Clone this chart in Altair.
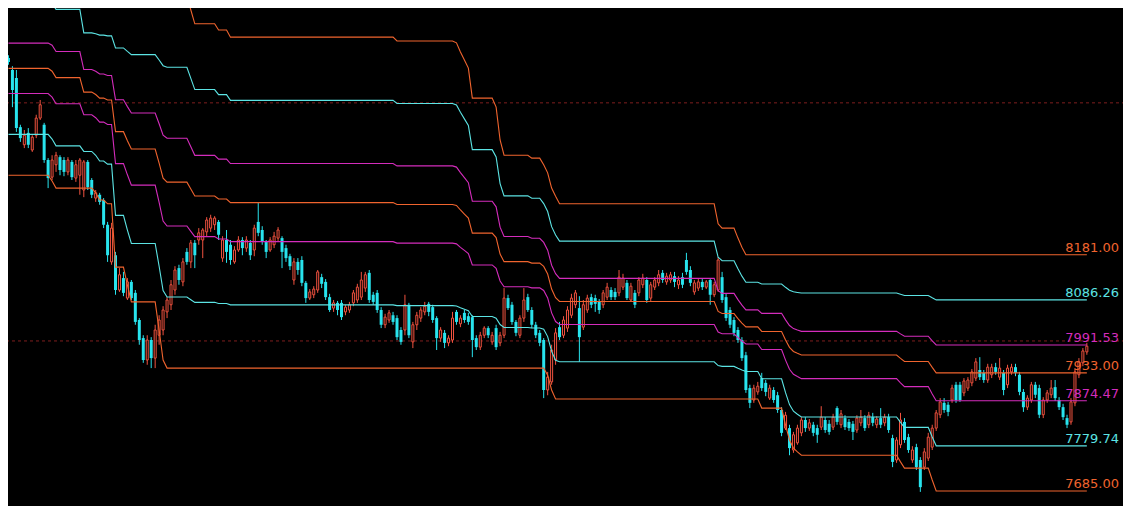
import altair as alt
import pandas as pd

# ---------------- colours ----------------
ORANGE = "#F0642E"
CYAN_LINE = "#5CE4E4"
MAGENTA = "#D42CBC"
RED_C = "#F0523F"
CYAN_C = "#28E4EE"
GRID_RED = "#7E1E1E"

# ---------------- candle data (price) ----------------
open_ = [
    8594, 8569, 8552, 8449, 8412, 8437, 8401, 8432, 8468, 8454,
    8380, 8344, 8370, 8386, 8380, 8355, 8376, 8342, 8348, 8317,
    8376, 8338, 8300, 8307, 8296, 8244, 8166, 8180, 8107, 8132,
    8090, 8124, 8101, 8044, 8006, 7960, 8002, 7964, 8012, 8023,
    8061, 8076, 8107, 8153, 8124, 8187, 8166, 8206, 8212, 8212,
    8229, 8237, 8244, 8250, 8174, 8212, 8202, 8166, 8191, 8212,
    8195, 8206, 8191, 8250, 8233, 8208, 8191, 8202, 8216, 8216,
    8195, 8178, 8128, 8166, 8170, 8122, 8090, 8097, 8107, 8134,
    8124, 8092, 8069, 8080, 8080, 8061, 8065, 8080, 8086, 8092,
    8111, 8143, 8097, 8101, 8065, 8034, 8044, 8054, 8048, 8023,
    8023, 8076, 7998, 8034, 8048, 8061, 8078, 8071, 8048, 8006,
    8017, 7996, 8002, 8061, 8036, 8059, 8052, 8050, 8006, 7987,
    8012, 8027, 7998, 8027, 7996, 8012, 8090, 8076, 8040, 8012,
    8048, 8092, 8065, 8034, 8017, 8002, 7897, 7914, 7960, 8029,
    8012, 8027, 8054, 8076, 8069, 8029, 8065, 8092, 8090, 8082,
    8076, 8092, 8107, 8103, 8101, 8113, 8122, 8086, 8101, 8101,
    8118, 8128, 8090, 8113, 8122, 8143, 8124, 8128, 8136, 8118,
    8134, 8170, 8149, 8103, 8111, 8124, 8113, 8128, 8097, 8107,
    8134, 8092, 8065, 8044, 8023, 8002, 7970, 7901, 7876, 7893,
    7922, 7912, 7880, 7897, 7886, 7855, 7817, 7817, 7771, 7786,
    7807, 7834, 7817, 7824, 7817, 7819, 7834, 7826, 7819, 7859,
    7824, 7838, 7830, 7826, 7813, 7828, 7838, 7824, 7840, 7824,
    7838, 7828, 7840, 7796, 7750, 7782, 7830, 7798, 7750, 7777,
    7750, 7735, 7754, 7777, 7817, 7845, 7870, 7866, 7876, 7908,
    7908, 7891, 7901, 7912, 7922, 7939, 7933, 7918, 7929, 7945,
    7924, 7933, 7908, 7935, 7945, 7929, 7893, 7861, 7876, 7908,
    7901, 7845, 7876, 7887, 7903, 7876, 7861, 7838, 7830, 7870,
    7929, 7954, 7977,
]
high = [
    8600, 8577, 8569, 8454, 8443, 8447, 8432, 8475, 8506, 8458,
    8384, 8390, 8397, 8390, 8386, 8386, 8380, 8380, 8384, 8380,
    8380, 8342, 8317, 8311, 8300, 8250, 8248, 8187, 8153, 8145,
    8132, 8128, 8107, 8048, 8012, 8012, 8008, 8034, 8054, 8073,
    8092, 8128, 8157, 8160, 8174, 8195, 8212, 8212, 8237, 8237,
    8260, 8265, 8262, 8254, 8220, 8233, 8212, 8199, 8220, 8218,
    8220, 8212, 8244, 8290, 8241, 8212, 8218, 8229, 8239, 8220,
    8202, 8183, 8174, 8174, 8178, 8126, 8109, 8115, 8149, 8141,
    8130, 8099, 8086, 8084, 8086, 8076, 8082, 8107, 8120, 8145,
    8145, 8149, 8103, 8107, 8071, 8057, 8065, 8061, 8054, 8029,
    8097, 8080, 8040, 8061, 8071, 8082, 8082, 8076, 8052, 8029,
    8023, 8012, 8061, 8065, 8054, 8065, 8059, 8054, 8012, 8019,
    8031, 8031, 8019, 8034, 8019, 8111, 8097, 8082, 8044, 8054,
    8111, 8099, 8071, 8040, 8023, 8006, 7935, 7992, 8027, 8040,
    8052, 8073, 8099, 8107, 8094, 8086, 8097, 8099, 8097, 8088,
    8107, 8122, 8113, 8111, 8149, 8141, 8128, 8122, 8107, 8134,
    8141, 8134, 8124, 8134, 8149, 8149, 8143, 8145, 8145, 8136,
    8143, 8185, 8157, 8128, 8130, 8130, 8128, 8132, 8124, 8176,
    8145, 8099, 8071, 8050, 8029, 8008, 7977, 7908, 7908, 7914,
    7933, 7918, 7908, 7903, 7893, 7861, 7851, 7824, 7809, 7824,
    7840, 7840, 7836, 7830, 7824, 7863, 7840, 7834, 7847, 7863,
    7855, 7844, 7836, 7832, 7844, 7855, 7844, 7851, 7849, 7842,
    7859, 7847, 7847, 7803, 7798, 7849, 7838, 7805, 7779, 7784,
    7756, 7775, 7807, 7824, 7855, 7880, 7880, 7872, 7908, 7914,
    7914, 7922, 7924, 7941, 7964, 7966, 7939, 7952, 7952, 7954,
    7964, 7939, 7950, 7952, 7952, 7935, 7899, 7886, 7914, 7914,
    7908, 7882, 7897, 7918, 7918, 7882, 7868, 7845, 7880, 7943,
    7964, 7985, 7996,
]
low = [
    8580, 8491, 8439, 8418, 8405, 8405, 8397, 8426, 8464, 8374,
    8321, 8338, 8355, 8348, 8346, 8348, 8338, 8334, 8307, 8302,
    8317, 8300, 8292, 8286, 8237, 8166, 8160, 8097, 8103, 8094,
    8086, 8086, 8034, 7992, 7954, 7950, 7943, 7943, 7992, 8012,
    8048, 8065, 8097, 8118, 8115, 8160, 8153, 8153, 8202, 8174,
    8220, 8229, 8233, 8212, 8166, 8164, 8160, 8162, 8187, 8180,
    8187, 8170, 8178, 8220, 8202, 8174, 8187, 8195, 8210, 8153,
    8166, 8149, 8118, 8139, 8115, 8080, 8086, 8090, 8101, 8111,
    8086, 8061, 8061, 8054, 8044, 8054, 8059, 8073, 8080, 8086,
    8103, 8080, 8076, 8059, 8027, 8027, 8038, 8034, 8002, 7992,
    8012, 8006, 7985, 8023, 8040, 8054, 8052, 8038, 7981, 7998,
    7985, 7989, 7996, 8034, 8029, 8038, 8034, 7966, 7981, 7981,
    8006, 8006, 7992, 7981, 7989, 8006, 8065, 8034, 8010, 8006,
    8040, 8061, 8027, 8006, 7989, 7880, 7886, 7908, 7950, 8002,
    8006, 8019, 8048, 8069, 7956, 8023, 8059, 8069, 8061, 8057,
    8069, 8086, 8086, 8086, 8094, 8107, 8086, 8082, 8069, 8094,
    8111, 8080, 8084, 8107, 8115, 8122, 8118, 8122, 8113, 8109,
    8111, 8139, 8115, 8097, 8105, 8107, 8109, 8076, 8092, 8103,
    8080, 8042, 8027, 8010, 7996, 7958, 7891, 7859, 7870, 7887,
    7895, 7884, 7876, 7870, 7849, 7800, 7813, 7760, 7765, 7782,
    7800, 7809, 7811, 7800, 7786, 7813, 7807, 7803, 7813, 7824,
    7817, 7813, 7811, 7792, 7807, 7821, 7811, 7817, 7821, 7817,
    7817, 7821, 7807, 7735, 7744, 7775, 7786, 7765, 7744, 7729,
    7683, 7729, 7748, 7771, 7811, 7838, 7849, 7842, 7870, 7870,
    7872, 7884, 7895, 7905, 7916, 7918, 7912, 7912, 7922, 7929,
    7918, 7886, 7901, 7929, 7926, 7886, 7851, 7855, 7870, 7880,
    7838, 7838, 7870, 7880, 7874, 7855, 7834, 7817, 7824, 7863,
    7922, 7947, 7971,
]
close = [
    8586, 8527, 8447, 8426, 8432, 8412, 8428, 8468, 8496, 8380,
    8342, 8380, 8390, 8359, 8355, 8380, 8344, 8370, 8380, 8376,
    8323, 8307, 8311, 8292, 8244, 8180, 8237, 8107, 8139, 8101,
    8124, 8090, 8040, 8002, 7960, 8002, 7964, 8023, 8044, 8065,
    8086, 8118, 8149, 8128, 8166, 8166, 8206, 8180, 8227, 8233,
    8254, 8258, 8258, 8223, 8212, 8187, 8170, 8191, 8212, 8195,
    8212, 8180, 8237, 8227, 8208, 8187, 8212, 8220, 8233, 8187,
    8174, 8157, 8166, 8149, 8122, 8090, 8103, 8109, 8145, 8120,
    8092, 8065, 8080, 8065, 8050, 8071, 8076, 8101, 8113, 8128,
    8139, 8086, 8082, 8065, 8034, 8050, 8059, 8040, 8008, 7998,
    8076, 8012, 8034, 8054, 8065, 8073, 8061, 8044, 8006, 8023,
    7996, 8006, 8048, 8040, 8048, 8044, 8040, 8002, 7987, 8012,
    8027, 8012, 8012, 7987, 8012, 8090, 8069, 8040, 8017, 8048,
    8086, 8065, 8034, 8012, 7996, 7897, 7924, 7981, 8017, 8008,
    8044, 8065, 8090, 8101, 8008, 8076, 8090, 8076, 8078, 8065,
    8101, 8113, 8092, 8092, 8134, 8132, 8090, 8115, 8076, 8128,
    8132, 8086, 8118, 8128, 8139, 8128, 8136, 8139, 8124, 8128,
    8118, 8145, 8122, 8122, 8124, 8113, 8124, 8097, 8118, 8170,
    8086, 8048, 8034, 8017, 8002, 7964, 7897, 7870, 7901, 7905,
    7901, 7893, 7901, 7876, 7855, 7807, 7844, 7775, 7803, 7817,
    7834, 7817, 7828, 7807, 7803, 7840, 7813, 7809, 7840, 7830,
    7847, 7819, 7817, 7809, 7838, 7840, 7817, 7844, 7828, 7836,
    7824, 7840, 7813, 7746, 7792, 7834, 7792, 7771, 7771, 7735,
    7693, 7767, 7798, 7817, 7849, 7872, 7855, 7851, 7901, 7876,
    7876, 7916, 7918, 7935, 7956, 7924, 7918, 7945, 7945, 7935,
    7943, 7897, 7943, 7945, 7933, 7893, 7861, 7880, 7908, 7887,
    7845, 7876, 7891, 7901, 7880, 7861, 7840, 7824, 7872, 7935,
    7956, 7979, 7989,
]

# rolling channel: highest high / lowest low, as runs (bar where a level starts, value)
hi_start = [0, 12, 19, 46, 47, 53, 56, 98, 113, 114, 115, 116, 117, 123, 124,
            125, 132, 135, 136, 137, 138, 139, 179, 180, 184, 185, 186]
hi_val = [8797, 8785, 8724, 8695, 8666, 8653, 8638, 8630, 8626, 8607, 8590, 8573, 8510, 8491, 8422,
          8390, 8384, 8370, 8353, 8321, 8304, 8288, 8246, 8237, 8216, 8197, 8181]
lo_start = [0, 11, 12, 22, 23, 25, 27, 30, 31, 38, 39, 40, 136, 137, 138,
            190, 196, 197, 198, 199, 200, 225, 226, 233, 234]
lo_val = [8348, 8336, 8321, 8311, 8296, 8288, 8155, 8117, 8082, 8023, 7960, 7943, 7928, 7897, 7878,
          7859, 7823, 7792, 7775, 7767, 7760, 7746, 7733, 7708, 7685]

level_ratio = [0.0, 0.191, 0.382, 0.5, 0.618, 0.809, 1.0]
level_name = ["L0", "L191", "L382", "L500", "L618", "L809", "L1000"]
level_color = [ORANGE, CYAN_LINE, MAGENTA, ORANGE, MAGENTA, CYAN_LINE, ORANGE]

round_levels = [8500, 8000]

# ---------------- build tables ----------------
n = min(len(open_), len(high), len(low), len(close))
cdf = pd.DataFrame({
    "i": list(range(n)),
    "open": open_[:n], "high": high[:n], "low": low[:n], "close": close[:n],
})
up = cdf[cdf["close"] >= cdf["open"]]
down = cdf[cdf["close"] < cdf["open"]]


def expand(starts, vals, count):
    out, k = [], 0
    for i in range(count):
        while k + 1 < len(starts) and starts[k + 1] <= i:
            k += 1
        out.append(vals[k])
    return out


hi = expand(hi_start, hi_val, n)
lo = expand(lo_start, lo_val, n)

rows = []
for name, r in zip(level_name, level_ratio):
    for i in range(n):
        rows.append({"i": i, "level": name, "v": hi[i] - r * (hi[i] - lo[i])})
ldf = pd.DataFrame(rows)

lab = []
for name, r in zip(level_name, level_ratio):
    v = hi[n - 1] - r * (hi[n - 1] - lo[n - 1])
    lab.append({"level": name, "v": v, "txt": f"{v:.2f}"})
labdf = pd.DataFrame(lab)

# ---------------- scales ----------------
xs = alt.Scale(domain=[-0.875, 281.875], nice=False, zero=False)
ys = alt.Scale(domain=[7653.4, 8716.0], nice=False, zero=False)
cs = alt.Scale(domain=level_name, range=level_color)

X = alt.X("i:Q", scale=xs, axis=None)

dashed = alt.Chart(pd.DataFrame({"v": round_levels})).mark_rule(
    color=GRID_RED, strokeWidth=1, strokeDash=[3, 3]
).encode(y=alt.Y("v:Q", scale=ys, axis=None))

wick_up = alt.Chart(up).mark_rule(color=RED_C, strokeWidth=1).encode(
    x=X, y=alt.Y("low:Q", scale=ys, axis=None), y2="high:Q")
wick_dn = alt.Chart(down).mark_rule(color=CYAN_C, strokeWidth=1).encode(
    x=X, y=alt.Y("low:Q", scale=ys, axis=None), y2="high:Q")

body_up = alt.Chart(up).mark_bar(size=2, fill="black", stroke=RED_C, strokeWidth=1).encode(
    x=X, y=alt.Y("open:Q", scale=ys, axis=None), y2="close:Q")
body_dn = alt.Chart(down).mark_bar(size=3, color=CYAN_C).encode(
    x=X, y=alt.Y("open:Q", scale=ys, axis=None), y2="close:Q")

lines = alt.Chart(ldf).mark_line(strokeWidth=1.1, clip=True).encode(
    x=X, y=alt.Y("v:Q", scale=ys, axis=None),
    color=alt.Color("level:N", scale=cs, legend=None),
    detail="level:N",
)

labels = alt.Chart(labdf).mark_text(
    align="right", baseline="alphabetic", dy=-3, font="DejaVu Sans", fontSize=13
).encode(
    x=alt.value(1119),
    y=alt.Y("v:Q", scale=ys, axis=None),
    text="txt:N",
    color=alt.Color("level:N", scale=cs, legend=None),
)

chart = alt.layer(dashed, wick_up, wick_dn, body_up, body_dn, lines, labels).properties(
    width=1131,
    height=506,
    autosize=alt.AutoSizeParams(type="none"),
    padding={"left": -8, "top": -8, "right": -8, "bottom": 0},
    background="black",
).configure_view(strokeWidth=0)

chart.save("out.html", embed_options={"renderer": "svg", "actions": False})
